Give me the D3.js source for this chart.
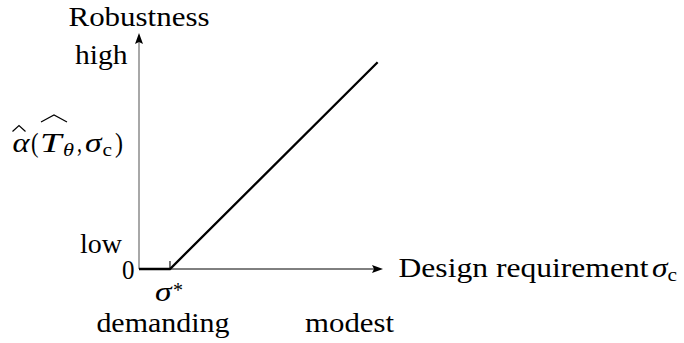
<!DOCTYPE html>
<html><head><meta charset="utf-8">
<script src="https://cdn.jsdelivr.net/npm/d3@7"></script></head>
<body style="margin:0">
<script>
// ---- data ----
const sigmaValues = [0, 0.127, 0.978];      // design requirement σc (normalised)
const robustnessValues = [0, 0, 0.876];     // robustness α̂ (normalised)
const sigmaStar = 0.127;
const yLevelNames = ["low", "high"];
const yLevelValues = [0.068, 0.868];
const yZeroLabel = "0";
const xNoteNames = ["demanding", "modest"];
const xNoteValues = [0.098, 0.863];
const xAxisTitle = "Design requirement";
const yAxisTitle = "Robustness";

// ---- layout ----
const W = 684, H = 343;
const svg = d3.select("body").append("svg").attr("width", W).attr("height", H).style("display", "block");

const x = d3.scaleLinear().domain([0, 1]).range([139, 383]);
const y = d3.scaleLinear().domain([0, 1]).range([269, 33]);

const FS = 28;

function label(txt, xPos, yPos, width, opts = {}) {
  const t = svg.append("text")
    .attr("x", xPos).attr("y", yPos)
    .attr("font-family", "Liberation Serif")
    .attr("font-size", opts.size || FS)
    .text(txt);
  if (opts.italic) t.attr("font-style", "italic");
  if (width) t.attr("textLength", width).attr("lengthAdjust", "spacingAndGlyphs");
  return t;
}

// axes
svg.append("line")
  .attr("x1", x(0)).attr("y1", y(0)).attr("x2", x(0)).attr("y2", y(1) + 8)
  .attr("stroke", "#6e6e6e").attr("stroke-width", 1.2);
svg.append("line")
  .attr("x1", x(0)).attr("y1", y(0)).attr("x2", x(1) - 9).attr("y2", y(0))
  .attr("stroke", "#000").attr("stroke-width", 1);
// arrow heads
const head = (tx, ty, ang) => {
  const L = 11, hw = 4;
  const p = [[0, 0], [-L, -hw], [-L + 2, 0], [-L, hw]].map(([a, b]) => {
    const c = Math.cos(ang), s = Math.sin(ang);
    return [tx + a * c - b * s, ty + a * s + b * c];
  });
  svg.append("path").attr("d", "M" + p.map(q => q.join(",")).join("L") + "Z").attr("fill", "#000");
};
head(x(0), y(1), -Math.PI / 2);
head(x(1), y(0), 0);

// σ* tick
svg.append("line")
  .attr("x1", x(sigmaStar)).attr("x2", x(sigmaStar))
  .attr("y1", y(0)).attr("y2", y(0) - 8)
  .attr("stroke", "#000").attr("stroke-width", 1.1);

// robustness curve
const pts = sigmaValues.map((s, i) => [s, robustnessValues[i]]);
svg.append("path")
  .datum(pts)
  .attr("d", d3.line().x(d => x(d[0])).y(d => y(d[1])))
  .attr("fill", "none").attr("stroke", "#000").attr("stroke-width", 2.3)
  .attr("stroke-linejoin", "miter");

// axis title (y)
label(yAxisTitle, x(0) - 70.5, 25.5, 141);

// y level labels
label(yLevelNames[1], x(0) - 64, y(yLevelValues[1]), 52.5);
label(yLevelNames[0], x(0) - 59, y(yLevelValues[0]), 42);
label(yZeroLabel, x(0) - 17, y(0) + 9.5, 12.5);

// y quantity label: α̂(T̂θ, σc)
const by = 152;
label("α", 12.5, by, 17, {italic: true});
label("(", 31, by, 7.5);
label("T", 40, by, 21.5, {italic: true});
label("θ", 63, by + 4, 11, {italic: true, size: 19});
label(",", 77, by, 5);
label("σ", 85, by, 16.5, {italic: true});
label("c", 102.5, by + 4, 9.5, {size: 19});
label(")", 115, by, 8);
// hats
svg.append("path").attr("d", "M12.5,131.5 L19,125.5 L25.5,131.5")
  .attr("fill", "none").attr("stroke", "#000").attr("stroke-width", 1.2);
svg.append("path").attr("d", "M41,122 L54,115 L67,122")
  .attr("fill", "none").attr("stroke", "#000").attr("stroke-width", 1.2);

// x axis title
label(xAxisTitle, 398.5, 277, 250);
label("σ", 652, 277, 15.5, {italic: true});
label("c", 667.5, 281, 9.5, {size: 19});

// σ* label
label("σ", 155, 300.5, 16.5, {italic: true});
label("*", 173, 297, 10, {size: 20});

// x notes
xNoteNames.forEach((n, i) => {
  const w = i === 0 ? 133 : 89;
  label(n, x(xNoteValues[i]) - w / 2, 331.5, w);
});
</script></body></html>
